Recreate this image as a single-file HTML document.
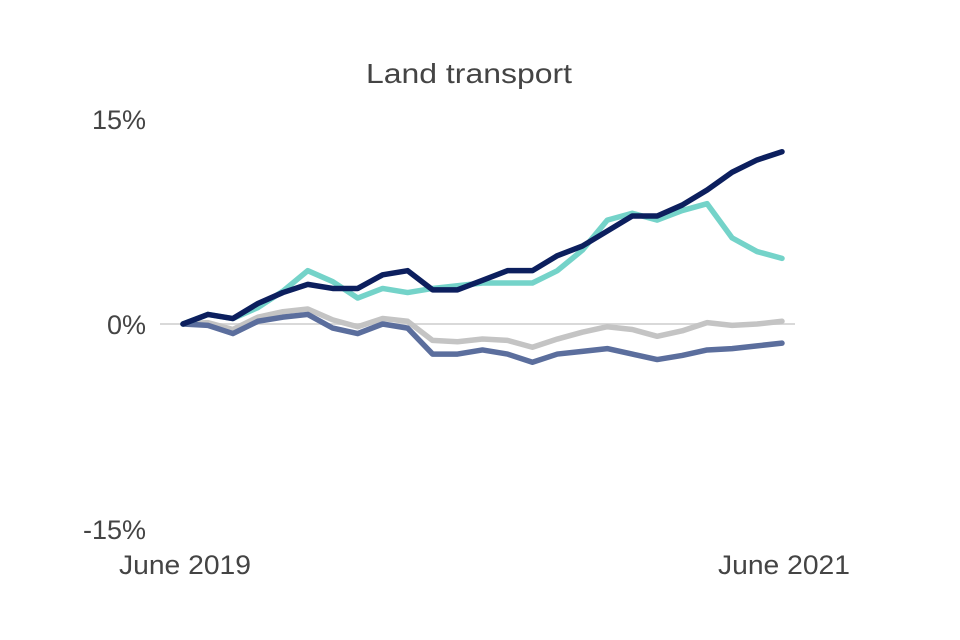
<!DOCTYPE html>
<html><head><meta charset="utf-8"><style>
html,body{margin:0;padding:0;background:#fff;}
svg{display:block;font-family:"Liberation Sans",Arial,sans-serif;}
</style></head><body>
<svg id="chart" width="960" height="640">
<text x="469" y="83" text-anchor="middle" font-size="28" textLength="206" lengthAdjust="spacingAndGlyphs" fill="#444">Land transport</text>
<g id="axes"></g>
<g id="series"></g>
</svg>
<script>
const categories = ["June 2019","","","","","","","","","","","","","","","","","","","","","","","","June 2021"];
const navySeries = [0,0.7,0.4,1.5,2.3,2.9,2.6,2.6,3.6,3.9,2.5,2.5,3.2,3.9,3.9,5.0,5.7,6.8,7.9,7.9,8.7,9.8,11.1,12.0,12.6];
const tealSeries = [0,0.7,0.4,1.2,2.4,3.9,3.1,1.9,2.6,2.3,2.6,2.8,3.0,3.0,3.0,3.9,5.4,7.6,8.1,7.6,8.3,8.8,6.3,5.3,4.8];
const graySeries = [0,0.1,-0.4,0.5,0.9,1.1,0.3,-0.2,0.4,0.2,-1.2,-1.3,-1.1,-1.2,-1.7,-1.1,-0.6,-0.2,-0.4,-0.9,-0.5,0.1,-0.1,0,0.2];
const slateSeries = [0,-0.1,-0.7,0.2,0.5,0.7,-0.3,-0.7,0,-0.3,-2.2,-2.2,-1.9,-2.2,-2.8,-2.2,-2.0,-1.8,-2.2,-2.6,-2.3,-1.9,-1.8,-1.6,-1.4];
const yTicks = [15,0,-15];
const yTickLabels = ["15%","0%","-15%"];

const NS="http://www.w3.org/2000/svg";
const x0=183,x1=782,yZero=324,pxPer=13.67;
function xs(i){return x0+(x1-x0)*i/(categories.length-1);}
function ys(v){return yZero-v*pxPer;}
const axes=document.getElementById('axes'), sg=document.getElementById('series');

const zl=document.createElementNS(NS,'line');
zl.setAttribute('x1',160);zl.setAttribute('x2',795);
zl.setAttribute('y1',ys(0));zl.setAttribute('y2',ys(0));
zl.setAttribute('stroke','#d9d9d9');zl.setAttribute('stroke-width','2');


axes.appendChild(zl);

yTicks.forEach((t,k)=>{
  const tx=document.createElementNS(NS,'text');
  tx.setAttribute('x',146);tx.setAttribute('y',ys(t)+10);
  tx.setAttribute('text-anchor','end');tx.setAttribute('font-size','27');tx.setAttribute('fill','#444');
  tx.textContent=yTickLabels[k];
  
  
  axes.appendChild(tx);
});
categories.forEach((c,i)=>{
  if(!c)return;
  const tx=document.createElementNS(NS,'text');
  tx.setAttribute('x',xs(i)+2);tx.setAttribute('y',574);
  tx.setAttribute('text-anchor','middle');tx.setAttribute('font-size','27');tx.setAttribute('fill','#444');
  tx.setAttribute('textLength','132');tx.setAttribute('lengthAdjust','spacingAndGlyphs');
  tx.textContent=c;
  
  
  axes.appendChild(tx);
});

[[graySeries,'#c4c4c4','gray-series-line'],[slateSeries,'#5b6e9d','slate-series-line'],[tealSeries,'#74d3c9','teal-series-line'],[navySeries,'#0c1f5e','navy-series-line']].forEach(([d,col,name])=>{
  const p=document.createElementNS(NS,'polyline');
  p.setAttribute('points',d.map((v,i)=>xs(i)+','+ys(v)).join(' '));
  p.setAttribute('fill','none');p.setAttribute('stroke',col);p.setAttribute('stroke-width','5.5');
  p.setAttribute('stroke-linejoin','round');p.setAttribute('stroke-linecap','round');
  
  
  sg.appendChild(p);
});
</script>
</body></html>
